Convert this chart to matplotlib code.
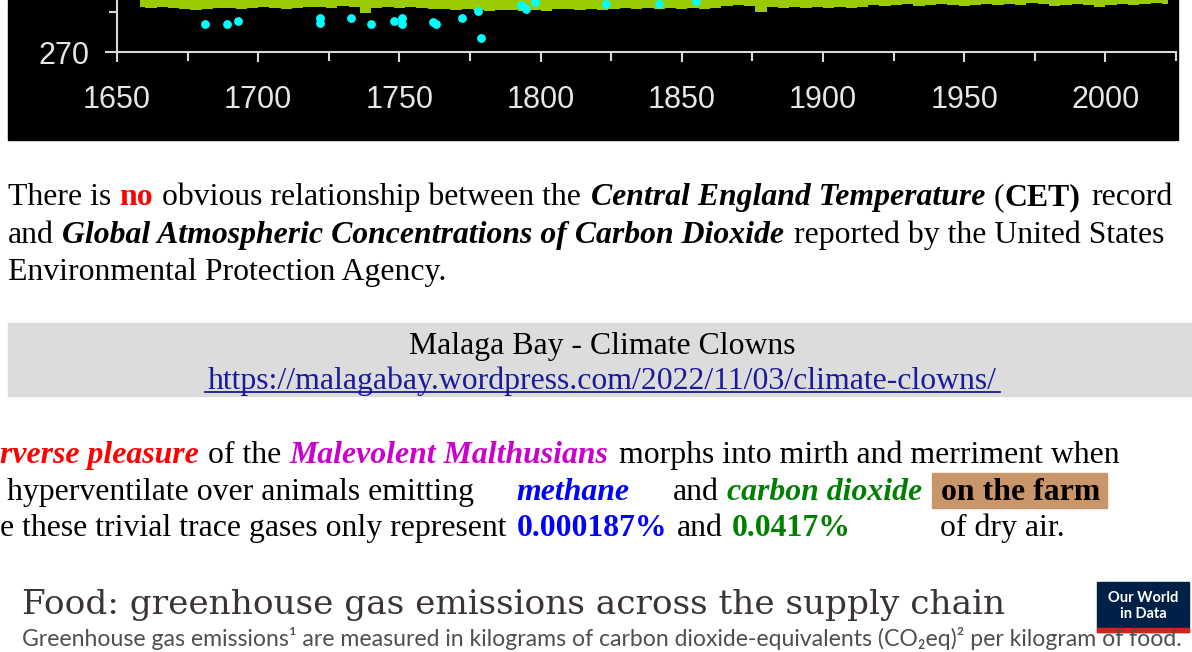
import numpy as np
import matplotlib
matplotlib.use("Agg")
import matplotlib.pyplot as plt
from matplotlib.patches import Rectangle
from matplotlib.lines import Line2D

W, H = 1192, 652
plt.rcParams['font.family'] = ['Liberation Sans', 'DejaVu Sans']

# lower edge of the green band (ppm), every 4 years from 1658 to 2022
band_years = np.arange(1658, 2023, 4)
band_low = [281.25, 281.0, 281.25, 281.0, 280.75, 280.5, 280.75, 281.0, 281.0, 280.75, 281.0,
            281.25, 281.0, 280.75, 281.0, 281.25, 281.25, 281.0, 281.5, 281.25, 279.75, 281.0, 281.25,
            281.0, 281.25, 281.0, 280.75, 280.75, 280.5, 280.75, 280.5, 280.25, 280.5, 280.5, 280.25, 280.5,
            280.25, 280.75, 280.75, 280.5, 280.75, 280.5, 280.75, 281.0, 280.75, 281.0, 280.75, 281.0,
            280.75, 281.0, 280.75, 281.0, 281.5, 281.75, 281.5, 280.0, 281.25, 281.0, 281.25, 281.0, 281.25,
            281.0, 281.25, 281.0, 281.25, 281.75, 281.5, 281.75, 282.0, 281.5, 281.75, 282.0, 281.75,
            281.5, 281.75, 282.0, 281.75, 282.0, 281.75, 282.25, 282.0, 281.5, 281.75, 282.0, 281.75, 281.25,
            281.75, 282.0, 281.75, 282.0, 282.25, 282.0]

# ice core points
ice_years = [1681, 1689, 1693, 1722, 1722, 1733, 1740, 1748, 1751, 1751, 1762, 1763,
             1772, 1778, 1779, 1793, 1795, 1798, 1823, 1842, 1855]
ice_ppm = [276.9, 276.9, 277.8, 278.4, 277.3, 278.4, 276.9, 277.8, 278.6, 276.9, 277.4, 276.9,
           278.5, 280.2, 273.5, 281.8, 280.8, 282.5, 282.0, 282.0, 282.8]

x_major = [1650, 1700, 1750, 1800, 1850, 1900, 1950, 2000]
x_minor = [1675, 1725, 1775, 1825, 1875, 1925, 1975, 2025]


def fx(px):
    return px / W


def fy(py):
    return 1 - py / H


fig = plt.figure(figsize=(W / 100, H / 100), dpi=100)
fig.patch.set_facecolor('white')

# black chart panel
fig.add_artist(Rectangle((fx(8), fy(140)), fx(1178) - fx(8), 140 / H,
                         transform=fig.transFigure, color='black', zorder=0))

ax = fig.add_axes([fx(117), fy(52), fx(1176) - fx(117), 120 / H])
ax.set_facecolor('none')
ax.fill_between(band_years, band_low, 300, step='mid', color='#99cc00', lw=0)
ax.scatter(ice_years, ice_ppm, s=40, color='#00ffff', zorder=3, lw=0)
ax.set_xlim(1650, 2025)
ax.set_ylim(270, 300)
for s in ['top', 'right']:
    ax.spines[s].set_visible(False)
for s in ['left', 'bottom']:
    ax.spines[s].set_color('#d9d9d9')
    ax.spines[s].set_linewidth(1.5)
ax.set_xticks(x_major)
ax.set_xticks(x_minor, minor=True)
ax.set_yticks([270])
ax.set_yticks([280], minor=True)
ax.tick_params(axis='x', which='major', length=7.5, width=1.5, color='#d9d9d9',
               pad=16, labelsize=22, labelcolor='#e6e6e6')
ax.tick_params(axis='x', which='minor', length=6.5, width=1.5, color='#d9d9d9')
ax.tick_params(axis='y', which='major', length=8.5, width=1.5, color='#d9d9d9',
               pad=11, labelsize=22, labelcolor='#e6e6e6')
ax.tick_params(axis='y', which='minor', length=6, width=1.5, color='#d9d9d9')

FS = 22.9
SERIF = 'Liberation Serif'


def run(x, base, s, color='black', weight='normal', style='normal'):
    return fig.text(fx(x), fy(base), s, ha='left', va='baseline', fontsize=FS,
                    family=SERIF, color=color, weight=weight, style=style)


# paragraph 1
run(8, 205, 'There is')
run(119, 205, 'no', color='#ff0000', weight='bold')
run(162, 205, 'obvious relationship between the')
run(591, 205, 'Central England Temperature', weight='bold', style='italic')
run(994, 205, '(')
run(1005, 205, 'CET)', weight='bold')
run(1091, 205, 'record')
run(8, 243, 'and')
run(62, 243, 'Global Atmospheric Concentrations of Carbon Dioxide', weight='bold', style='italic')
run(794, 243, 'reported by the United States')
run(8, 280, 'Environmental Protection Agency.')

# grey citation box
fig.add_artist(Rectangle((fx(8), fy(396)), fx(1192) - fx(8), (396 - 323) / H,
                         transform=fig.transFigure, color='#dcdcdc', zorder=0))
fig.text(fx(602), fy(354), 'Malaga Bay - Climate Clowns', ha='center', va='baseline',
         fontsize=FS, family=SERIF, color='black')
link_col = '#1a1a9a'
fig.text(fx(602), fy(389), 'https://malagabay.wordpress.com/2022/11/03/climate-clowns/',
         ha='center', va='baseline', fontsize=FS, family=SERIF, color=link_col)
fig.add_artist(Line2D([fx(205), fx(1000)], [fy(392), fy(392)], transform=fig.transFigure,
                      color=link_col, lw=1.3))

# paragraph 2
run(0, 463, 'rverse pleasure', color='#ff0000', weight='bold', style='italic')
run(208, 463, 'of the')
run(289, 463, 'Malevolent Malthusians', color='#cc00cc', weight='bold', style='italic')
run(619, 463, 'morphs into mirth and merriment when')
run(7, 500, 'hyperventilate over animals emitting')
run(516, 500, 'methane', color='#0000ff', weight='bold', style='italic')
run(673, 500, 'and')
run(727, 500, 'carbon dioxide', color='#008000', weight='bold', style='italic')
fig.add_artist(Rectangle((fx(932), fy(508)), fx(1107) - fx(932), 35 / H,
                         transform=fig.transFigure, color='#c9966a', zorder=0))
run(941, 500, 'on the farm', weight='bold')
run(0, 536, 'e these trivial trace gases only represent')
run(517, 536, '0.000187%', color='#0000ff', weight='bold')
run(677, 536, 'and')
run(732, 536, '0.0417%', color='#008000', weight='bold')
run(940, 536, 'of dry air.')

# Our World in Data header
renderer = fig.canvas.get_renderer()


def fit(x0, x1, base, s, family, color, size=20):
    t = fig.text(fx(x0), fy(base), s, ha='left', va='baseline', fontsize=size,
                 family=family, color=color)
    w = t.get_window_extent(renderer).width
    t.set_fontsize(size * (x1 - x0) / w)
    return t


fit(22, 1003, 614, 'Food: greenhouse gas emissions across the supply chain',
    ['DejaVu Serif'], '#3b3434')
fit(22, 1185, 646,
    'Greenhouse gas emissions\u00b9 are measured in kilograms of carbon dioxide-equivalents '
    '(CO\u2082eq)\u00b2 per kilogram of food.', ['Lato', 'DejaVu Sans'], '#4f4f4f')

fig.add_artist(Rectangle((fx(1097), fy(632)), fx(1189) - fx(1097), 50 / H,
                         transform=fig.transFigure, color='#002147', zorder=1))
fig.add_artist(Rectangle((fx(1097), fy(632)), fx(1189) - fx(1097), 4 / H,
                         transform=fig.transFigure, color='#ce261e', zorder=2))
fig.text(fx(1143), fy(598), 'Our World', ha='center', va='center', fontsize=10.5,
         family=['Lato', 'DejaVu Sans'], weight='bold', color='white', zorder=3)
fig.text(fx(1143), fy(614), 'in Data', ha='center', va='center', fontsize=10.5,
         family=['Lato', 'DejaVu Sans'], weight='bold', color='white', zorder=3)

fig.savefig('out.png', dpi=100, facecolor='white')
